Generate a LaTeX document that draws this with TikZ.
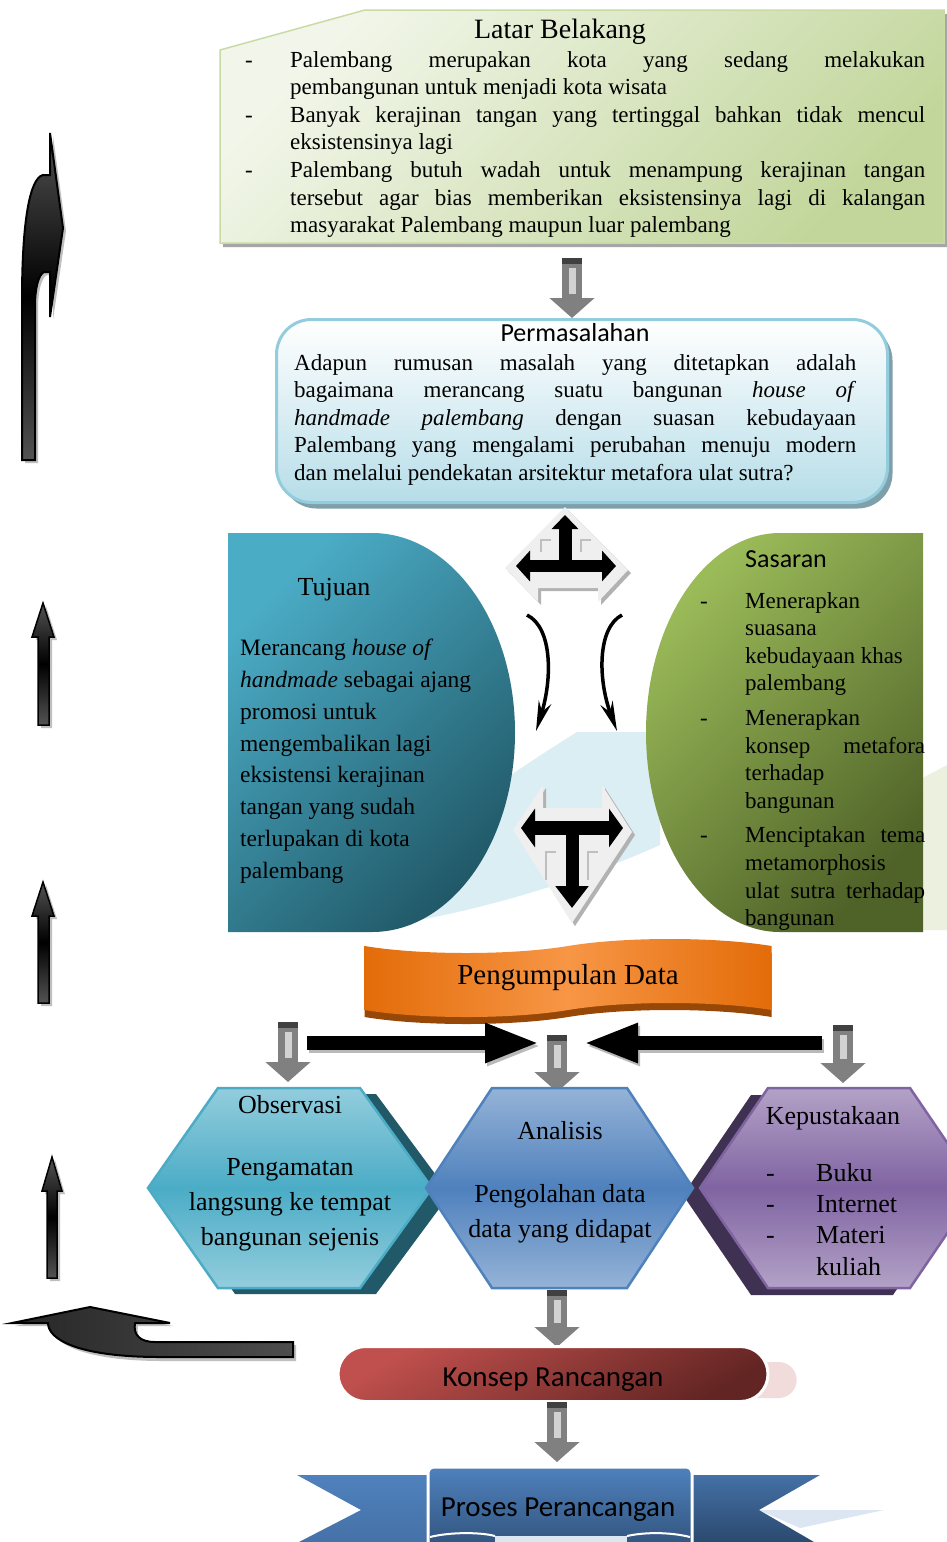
\documentclass[tikz,border=0pt]{standalone}
\usepackage{fontspec}
\setmainfont{Liberation Serif}
\newfontfamily\calibri{Carlito}
\usetikzlibrary{arrows.meta,shapes.misc,shapes.symbols,shadows,positioning}

\definecolor{latarlight}{HTML}{F2F6EA}
\definecolor{latardark}{HTML}{C2D69B}
\definecolor{latarline}{HTML}{C9DBA5}
\definecolor{permline}{HTML}{93CDDD}
\definecolor{permfill}{HTML}{B6DDE8}
\definecolor{permshadow}{HTML}{7FA0AA}
\definecolor{tujlight}{HTML}{4BACC6}
\definecolor{tujdark}{HTML}{215968}
\definecolor{saslight}{HTML}{9BBB59}
\definecolor{sasdark}{HTML}{4F6228}
\definecolor{swoosh}{HTML}{DBEEF3}
\definecolor{swooshgreen}{HTML}{EBF1DE}
\definecolor{orangedark}{HTML}{E36C09}
\definecolor{orangelight}{HTML}{F79646}
\definecolor{orangeshadow}{HTML}{984806}
\definecolor{obslight}{HTML}{93CDDD}
\definecolor{obsdark}{HTML}{215968}
\definecolor{analight}{HTML}{95B3D7}
\definecolor{anamid}{HTML}{4F81BD}
\definecolor{keplight}{HTML}{B3A2C7}
\definecolor{kepmid}{HTML}{8064A2}
\definecolor{kepdark}{HTML}{3F3151}
\definecolor{konseplight}{HTML}{C0504D}
\definecolor{konsepdark}{HTML}{632523}
\definecolor{konsepshadow}{HTML}{F2DCDB}
\definecolor{proseslight}{HTML}{4F81BD}
\definecolor{prosesdark}{HTML}{243F60}
\definecolor{prosesshadow}{HTML}{DCE6F2}
\definecolor{tbg}{HTML}{EFEFEF}

\begin{document}
\begin{tikzpicture}[x=1pt,y=-1pt,
    body/.style={font=\fontsize{23}{27.6}\selectfont, inner sep=0pt, align=left},
    head/.style={font=\fontsize{26}{30}\selectfont, inner sep=0pt},
    calhead/.style={font=\calibri\fontsize{26}{30}\selectfont, inner sep=0pt},
    hextext/.style={font=\fontsize{26}{35}\selectfont, inner sep=0pt, align=center},
    downarr/.style={line width=20pt, draw=gray, -{Triangle[length=20pt,width=44pt]},
      postaction={draw=gray!35, line width=7pt, shorten >=24pt, shorten <=10pt, -},
      postaction={draw=black!75, line width=20pt, dash pattern=on 6pt off 300pt, -}},
    sidearr/.style={line width=14pt, -{Triangle[length=55pt,width=36pt]},
      preaction={draw=gray!55, line width=14pt, -{Triangle[length=55pt,width=36pt]},
        transform canvas={shift={(2pt,-3pt)}}}},
    blackshape/.style={draw=black, line width=2pt, top color=gray!65!black,
      bottom color=gray!65!black, middle color=black},
    tarrow/.style={fill=tbg, drop shadow={shadow xshift=3pt, shadow yshift=-3pt, fill=gray!60, opacity=1}}
  ]
  \useasboundingbox[fill=white] (0,0) rectangle (947,1542);

  % background swooshes
  \fill[swoosh] (577,732) -- (660,732) -- (660,845) .. controls (560,890) and (430,925) .. (330,932)
    -- (300,932) .. controls (400,850) and (500,780) .. (577,732) -- cycle;
  \fill[swooshgreen] (900,790) -- (947,765) -- (947,930) -- (900,930) -- cycle;

  % Latar Belakang
  \path[draw=latarline, line width=1.5pt, top color=latarlight, bottom color=latardark, shading angle=45,
        drop shadow={shadow xshift=3pt, shadow yshift=-4pt, fill=gray!70, opacity=1}]
    (220,50) -- (365,10) -- (944,10) -- (944,243) -- (220,243) -- cycle;
  \node[head, font=\fontsize{28}{30}\selectfont] (latar) at (560,32) {Latar Belakang};
  \node[body, anchor=north west] (latartext) at (245,51) {%
    \makebox[45pt][l]{-}\makebox[635pt][s]{Palembang merupakan kota yang sedang melakukan}\\
    \hspace*{45pt}pembangunan untuk menjadi kota wisata\\
    \makebox[45pt][l]{-}\makebox[635pt][s]{Banyak kerajinan tangan yang tertinggal bahkan tidak mencul}\\
    \hspace*{45pt}eksistensinya lagi\\
    \makebox[45pt][l]{-}\makebox[635pt][s]{Palembang butuh wadah untuk menampung kerajinan tangan}\\
    \hspace*{45pt}\makebox[635pt][s]{tersebut agar bias memberikan eksistensinya lagi di kalangan}\\
    \hspace*{45pt}masyarakat Palembang maupun luar palembang};

  % Permasalahan
  \node[rounded corners=35pt, minimum width=611pt, minimum height=183pt, inner sep=0pt,
        draw=permline, line width=3pt, top color=white, bottom color=permfill,
        drop shadow={shadow xshift=5pt, shadow yshift=-6pt, fill=permshadow, opacity=1}] (perm) at (582,411) {};
  \node[calhead] (permtitle) at (575,333) {Permasalahan};
  \node[body, anchor=north west] (permtext) at (294,354) {%
    \makebox[562pt][s]{Adapun rumusan masalah yang ditetapkan adalah}\\
    \makebox[562pt][s]{bagaimana merancang suatu bangunan \textit{house of}}\\
    \makebox[562pt][s]{\textit{handmade palembang} dengan suasan kebudayaan}\\
    \makebox[562pt][s]{Palembang yang mengalami perubahan menuju modern}\\
    dan melalui pendekatan arsitektur metafora ulat sutra?};

  % Tujuan
  \path[top color=tujlight, bottom color=tujdark, shading angle=45]
    (228,533) -- (372,533) arc[start angle=-90, end angle=90, x radius=143, y radius=199.5]
    -- (228,932) -- cycle;
  \node[head] (tujuan) at (334,590) {Tujuan};
  \node[body, font=\fontsize{23.5}{31.8}\selectfont, anchor=north west] (tujtext) at (240,639) {%
    Merancang \textit{house of}\\
    \textit{handmade} sebagai ajang\\
    promosi untuk\\
    mengembalikan lagi\\
    eksistensi kerajinan\\
    tangan yang sudah\\
    terlupakan di kota\\
    palembang};

  % Sasaran
  \path[top color=saslight, bottom color=sasdark, shading angle=45]
    (923,533) -- (780,533) arc[start angle=-90, end angle=-270, x radius=134, y radius=199.5]
    -- (923,932) -- cycle;
  \node[calhead, anchor=west] (sasaran) at (745,559) {Sasaran};
  \node[body, anchor=north west] (sastext) at (700,592) {%
    \makebox[45pt][l]{-}Menerapkan\\
    \hspace*{45pt}suasana\\
    \hspace*{45pt}kebudayaan khas\\
    \hspace*{45pt}palembang\\[7pt]
    \makebox[45pt][l]{-}Menerapkan\\
    \hspace*{45pt}\makebox[180pt][s]{konsep metafora}\\
    \hspace*{45pt}terhadap\\
    \hspace*{45pt}bangunan\\[7pt]
    \makebox[45pt][l]{-}\makebox[180pt][s]{Menciptakan tema}\\
    \hspace*{45pt}metamorphosis\\
    \hspace*{45pt}\makebox[180pt][s]{ulat sutra terhadap}\\
    \hspace*{45pt}bangunan};

  % T arrows in the middle
  \path[tarrow] (565,507) -- (628,570) -- (598,602) -- (598,588) -- (538,588) -- (538,602) -- (505,568) -- cycle;
  \draw[gray!50, line width=2.5pt] (541,552) -- (541,540) -- (551,540) (581,552) -- (581,540) -- (591,540);
  \draw[line width=13pt, -{Triangle[length=14pt,width=26pt]}] (565,568) -- (565,515);
  \draw[line width=12pt, {Triangle[length=14pt,width=30pt]}-{Triangle[length=14pt,width=30pt]}] (516,566) -- (616,566);

  \path[tarrow] (513,830) -- (543,785) -- (543,808) -- (602,808) -- (602,785) -- (632,832) -- (572,923) -- cycle;
  \draw[gray!50, line width=2.5pt] (546,880) -- (546,852) -- (556,852) (588,880) -- (588,852) -- (598,852);
  \draw[line width=14pt, {Triangle[length=14pt,width=38pt]}-{Triangle[length=14pt,width=38pt]}] (521,828) -- (623,828);
  \draw[line width=13pt, -{Triangle[length=22pt,width=32pt]}] (572,828) -- (572,908);

  % curved arrows
  \draw[line width=3.5pt, -{Stealth[length=30pt,width=13pt]}] (527,615) .. controls (553,628) and (552,680) .. (536,731);
  \draw[line width=3.5pt, -{Stealth[length=30pt,width=13pt]}] (622,615) .. controls (597,628) and (598,680) .. (617,731);

  % Pengumpulan Data
  \node[tape, tape bend top=in and out, tape bend bottom=in and out, tape bend height=14pt,
        minimum width=407pt, minimum height=78pt, inner sep=0pt,
        left color=orangedark, right color=orangedark, middle color=orangelight,
        drop shadow={shadow xshift=0pt, shadow yshift=-7pt, fill=orangeshadow, opacity=1},
        font=\fontsize{29}{30}\selectfont] (kumpul) at (568,978) {Pengumpulan Data};

  % gray arrows
  \coordinate (d1s) at (572,258);  \coordinate (d1e) at (572,318);
  \coordinate (dLs) at (288,1022); \coordinate (dLe) at (288,1082);
  \coordinate (dCs) at (557,1035); \coordinate (dCe) at (557,1092);
  \coordinate (dRs) at (843,1025); \coordinate (dRe) at (843,1083);
  \coordinate (d2s) at (557,1290); \coordinate (d2e) at (557,1347);
  \coordinate (d3s) at (557,1402); \coordinate (d3e) at (557,1462);
  \coordinate (hL) at (307,1043);  \coordinate (hCl) at (540,1043);
  \coordinate (hR) at (822,1043);  \coordinate (hCr) at (583,1043);

  \draw[downarr] (d1s) -- (d1e);
  \draw[downarr] (dLs) -- (dLe);
  \draw[downarr] (dCs) -- (dCe);
  \draw[downarr] (dRs) -- (dRe);
  \draw[sidearr] (hL) -- (hCl);
  \draw[sidearr] (hR) -- (hCr);

  % hexagons
  \fill[obsdark] (166,1194) -- (235,1094) -- (376,1094) -- (450,1194) -- (376,1294) -- (235,1294) -- cycle;
  \path[draw=tujlight, line width=2.5pt, top color=obslight, bottom color=obslight, middle color=tujlight]
    (148,1188) -- (218,1088) -- (360,1088) -- (432,1188) -- (360,1288) -- (218,1288) -- cycle;
  \fill[kepdark] (683,1195) -- (751,1095) -- (893,1095) -- (961,1195) -- (893,1295) -- (751,1295) -- cycle;
  \path[draw=kepmid, line width=2.5pt, top color=keplight, bottom color=keplight, middle color=kepmid]
    (700,1188) -- (768,1088) -- (910,1088) -- (978,1188) -- (910,1288) -- (768,1288) -- cycle;
  \path[draw=anamid, line width=2.5pt, top color=analight, bottom color=analight, middle color=anamid]
    (426,1188) -- (492,1088) -- (627,1088) -- (693,1188) -- (627,1288) -- (492,1288) -- cycle;

  \node[hextext, anchor=north] (obs) at (290,1095) {Observasi\\[27pt]Pengamatan\\langsung ke tempat\\bangunan sejenis};
  \node[hextext, anchor=north] (ana) at (560,1121) {Analisis\\[28pt]Pengolahan data\\data yang didapat};
  \node[hextext, anchor=north] (kep) at (833,1106) {Kepustakaan};
  \node[hextext, font=\fontsize{26}{31.3}\selectfont, align=left, anchor=north west] (keplist) at (766,1163)
    {\makebox[50pt][l]{-}Buku\\\makebox[50pt][l]{-}Internet\\\makebox[50pt][l]{-}Materi\\\hspace*{50pt}kuliah};

  \draw[downarr] (d2s) -- (d2e);

  % Konsep Rancangan
  \node[rounded rectangle, minimum width=420pt, minimum height=36pt, fill=konsepshadow] (konsepsh) at (590,1380) {};
  \node[rounded rectangle, minimum width=430pt, minimum height=55pt, inner sep=0pt,
        text height=24pt, text depth=0pt,
        draw=white, line width=3pt, top color=konseplight, bottom color=konsepdark, shading angle=30,
        font=\calibri\fontsize{29}{30}\selectfont] (konsep) at (553,1374) {Konsep Rancangan};

  \draw[downarr] (d3s) -- (d3e);

  % Proses Perancangan
  \fill[prosesshadow] (759,1510) -- (884,1510) -- (800,1528) -- cycle;
  \path[top color=proseslight, bottom color=proseslight!70!prosesdark]
    (297,1475) -- (430,1475) -- (430,1560) -- (299,1560) -- (299,1542) -- (361,1510) -- cycle;
  \path[top color=proseslight!75!prosesdark, bottom color=prosesdark]
    (690,1475) -- (820,1475) -- (759,1510) -- (814,1542) -- (814,1560) -- (690,1560) -- cycle;
  \path[draw=white, line width=3pt, top color=proseslight, bottom color=prosesdark!80!proseslight, rounded corners=6pt]
    (428,1560) -- (428,1467) -- (692,1467) -- (692,1560);
  \fill[prosesshadow] (495,1536) rectangle (627,1545);
  \draw[white, line width=2pt] (430,1537) .. controls (450,1532) and (480,1532) .. (495,1536)
    (627,1536) .. controls (645,1532) and (670,1532) .. (690,1537);
  \node[font=\calibri\fontsize{29}{30}\selectfont, inner sep=0pt] (proses) at (558,1510) {Proses Perancangan};

  % decorative black arrows on the left
  \fill[gray!50] (25,463) -- (25,303) .. controls (25,223) and (33,181) .. (46,178) -- (53,178) -- (53,136)
    -- (66,231) -- (53,320) -- (53,275) -- (47,275) .. controls (41,278) and (38,293) .. (38,308) -- (38,463) -- cycle;
  \path[blackshape] (22,460) -- (22,300) .. controls (22,220) and (30,178) .. (43,175) -- (50,175) -- (50,133)
    -- (63,228) -- (50,317) -- (50,272) -- (44,272) .. controls (38,275) and (35,290) .. (35,305) -- (35,460) -- cycle;

  \fill[gray!50] (46,606) -- (57,640) -- (52,640) -- (52,728) -- (41,728) -- (41,640) -- (36,640) -- cycle;
  \path[blackshape, line width=1.5pt] (43,603) -- (54,637) -- (49,637) -- (49,725) -- (38,725) -- (38,637) -- (32,637) -- cycle;
  \fill[gray!50] (46,885) -- (57,919) -- (52,919) -- (52,1006) -- (41,1006) -- (41,919) -- (36,919) -- cycle;
  \path[blackshape, line width=1.5pt] (43,882) -- (54,916) -- (49,916) -- (49,1003) -- (38,1003) -- (38,916) -- (32,916) -- cycle;
  \fill[gray!50] (55,1160) -- (65,1194) -- (60,1194) -- (60,1281) -- (50,1281) -- (50,1194) -- (45,1194) -- cycle;
  \path[blackshape, line width=1.5pt] (52,1157) -- (62,1191) -- (57,1191) -- (57,1278) -- (47,1278) -- (47,1191) -- (42,1191) -- cycle;

  \fill[gray!50] (15,1326) -- (93,1310) -- (173,1326) -- (138,1326) .. controls (136,1338) and (143,1345) .. (158,1345)
    -- (296,1345) -- (296,1361) -- (163,1361) .. controls (83,1361) and (51,1343) .. (51,1326) -- cycle;
  \path[draw=black, line width=2pt, left color=black!85, right color=gray!60!black]
    (12,1323) -- (90,1307) -- (170,1323) -- (135,1323) .. controls (133,1335) and (140,1342) .. (155,1342)
    -- (293,1342) -- (293,1357) -- (160,1357) .. controls (80,1357) and (48,1340) .. (48,1323) -- cycle;
\end{tikzpicture}
\end{document}
